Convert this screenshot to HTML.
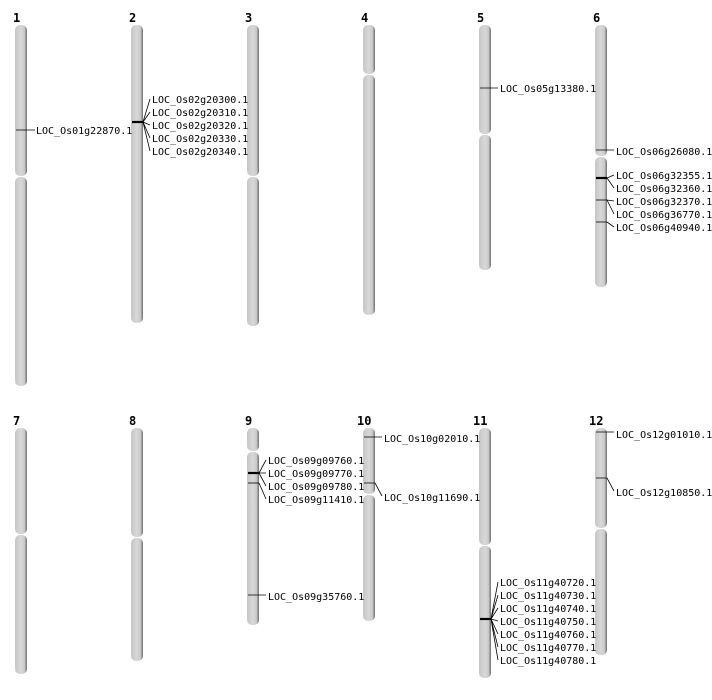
<!DOCTYPE html>
<html><head><meta charset="utf-8"><style>
html,body{margin:0;padding:0;background:#fff;}
svg{display:block;}
text{font-family:"DejaVu Sans Mono","Liberation Mono",monospace;font-size:10px;fill:#000;}
.n{font-weight:bold;font-size:12px;}
.l{stroke:#000;stroke-width:0.8;fill:none;}
.t{stroke:#000;stroke-width:2.2;}
</style></head><body>
<svg width="712" height="700" viewBox="0 0 712 700">
<defs>
<linearGradient id="g" x1="0" x2="1" y1="0" y2="0">
<stop offset="0" stop-color="#c6c6c6"/><stop offset="0.5" stop-color="#d8d8d8"/><stop offset="0.8" stop-color="#c8c8c8"/><stop offset="1" stop-color="#6a6a6a"/>
</linearGradient>
</defs>
<g fill="url(#g)">
<!-- row 1 -->
<rect x="15" y="25" width="12" height="151" rx="5"/><rect x="15" y="177" width="12" height="209" rx="5"/>
<rect x="131" y="25" width="12" height="298" rx="5"/>
<rect x="247" y="25" width="12" height="151" rx="5"/><rect x="247" y="177" width="12" height="149" rx="5"/>
<rect x="363" y="25" width="12" height="49" rx="5"/><rect x="363" y="75" width="12" height="240" rx="5"/>
<rect x="479" y="25" width="12" height="109" rx="5"/><rect x="479" y="135" width="12" height="135" rx="5"/>
<rect x="595" y="25" width="12" height="131" rx="5"/><rect x="595" y="157" width="12" height="130" rx="5"/>
<!-- row 2 -->
<rect x="15" y="428" width="12" height="106" rx="5"/><rect x="15" y="535" width="12" height="139" rx="5"/>
<rect x="131" y="428" width="12" height="109" rx="5"/><rect x="131" y="538" width="12" height="123" rx="5"/>
<rect x="247" y="428" width="12" height="23" rx="5"/><rect x="247" y="452" width="12" height="173" rx="5"/>
<rect x="363" y="428" width="12" height="66" rx="5"/><rect x="363" y="495" width="12" height="126" rx="5"/>
<rect x="479" y="428" width="12" height="117" rx="5"/><rect x="479" y="546" width="12" height="132" rx="5"/>
<rect x="595" y="428" width="12" height="100" rx="5"/><rect x="595" y="529" width="12" height="126" rx="5"/>
</g>
<g class="n">
<text class="n" x="13" y="22">1</text><text class="n" x="129" y="22">2</text><text class="n" x="245" y="22">3</text>
<text class="n" x="361" y="22">4</text><text class="n" x="477" y="22">5</text><text class="n" x="593" y="22">6</text>
<text class="n" x="13" y="425">7</text><text class="n" x="129" y="425">8</text><text class="n" x="245" y="425">9</text>
<text class="n" x="357" y="425">10</text><text class="n" x="473" y="425">11</text><text class="n" x="589" y="425">12</text>
</g>
<!-- chr1 -->
<line class="l" x1="16" y1="130" x2="35" y2="130"/><text x="36" y="134">LOC_Os01g22870.1</text>
<!-- chr2 -->
<line class="t" x1="132" y1="122" x2="143" y2="122"/>
<path class="l" d="M143 122L150 99M143 122L150 112M143 122L150 125M143 122L150 138M143 122L150 151"/>
<text x="152" y="103">LOC_Os02g20300.1</text><text x="152" y="116">LOC_Os02g20310.1</text><text x="152" y="129">LOC_Os02g20320.1</text><text x="152" y="142">LOC_Os02g20330.1</text><text x="152" y="155">LOC_Os02g20340.1</text>
<!-- chr5 -->
<line class="l" x1="480" y1="88" x2="498" y2="88"/><text x="500" y="92">LOC_Os05g13380.1</text>
<!-- chr6 -->
<line class="l" x1="596" y1="150" x2="614" y2="150"/><text x="616" y="155">LOC_Os06g26080.1</text>
<line class="t" x1="596" y1="178" x2="607" y2="178"/>
<line class="l" x1="596" y1="200" x2="607" y2="200"/><line class="l" x1="596" y1="222" x2="607" y2="222"/>
<path class="l" d="M607 178L614 175M607 178L614 188M607 200L614 201M607 200L614 214M607 222L614 227"/>
<text x="616" y="179">LOC_Os06g32355.1</text><text x="616" y="192">LOC_Os06g32360.1</text><text x="616" y="205">LOC_Os06g32370.1</text><text x="616" y="218">LOC_Os06g36770.1</text><text x="616" y="231">LOC_Os06g40940.1</text>
<!-- chr9 -->
<line class="t" x1="248" y1="473" x2="259" y2="473"/><line class="l" x1="248" y1="483" x2="259" y2="483"/>
<path class="l" d="M259 473L266 460M259 473L266 473M259 473L266 486M259 483L266 499"/>
<text x="268" y="464">LOC_Os09g09760.1</text><text x="268" y="477">LOC_Os09g09770.1</text><text x="268" y="490">LOC_Os09g09780.1</text><text x="268" y="503">LOC_Os09g11410.1</text>
<line class="l" x1="248" y1="595" x2="266" y2="595"/><text x="268" y="600">LOC_Os09g35760.1</text>
<!-- chr10 -->
<line class="l" x1="364" y1="437" x2="382" y2="437"/><text x="384" y="442">LOC_Os10g02010.1</text>
<path class="l" d="M364 483L375 483L382 496"/><text x="384" y="501">LOC_Os10g11690.1</text>
<!-- chr11 -->
<line class="t" x1="480" y1="619" x2="491" y2="619"/>
<path class="l" d="M491 619L498 582M491 619L498 595M491 619L498 608M491 619L498 621M491 619L498 634M491 619L498 647M491 619L498 660"/>
<text x="500" y="586">LOC_Os11g40720.1</text><text x="500" y="599">LOC_Os11g40730.1</text><text x="500" y="612">LOC_Os11g40740.1</text><text x="500" y="625">LOC_Os11g40750.1</text><text x="500" y="638">LOC_Os11g40760.1</text><text x="500" y="651">LOC_Os11g40770.1</text><text x="500" y="664">LOC_Os11g40780.1</text>
<!-- chr12 -->
<line class="l" x1="596" y1="432" x2="614" y2="432"/><text x="616" y="438">LOC_Os12g01010.1</text>
<path class="l" d="M596 478L607 478L614 491"/><text x="616" y="496">LOC_Os12g10850.1</text>
</svg>
</body></html>
